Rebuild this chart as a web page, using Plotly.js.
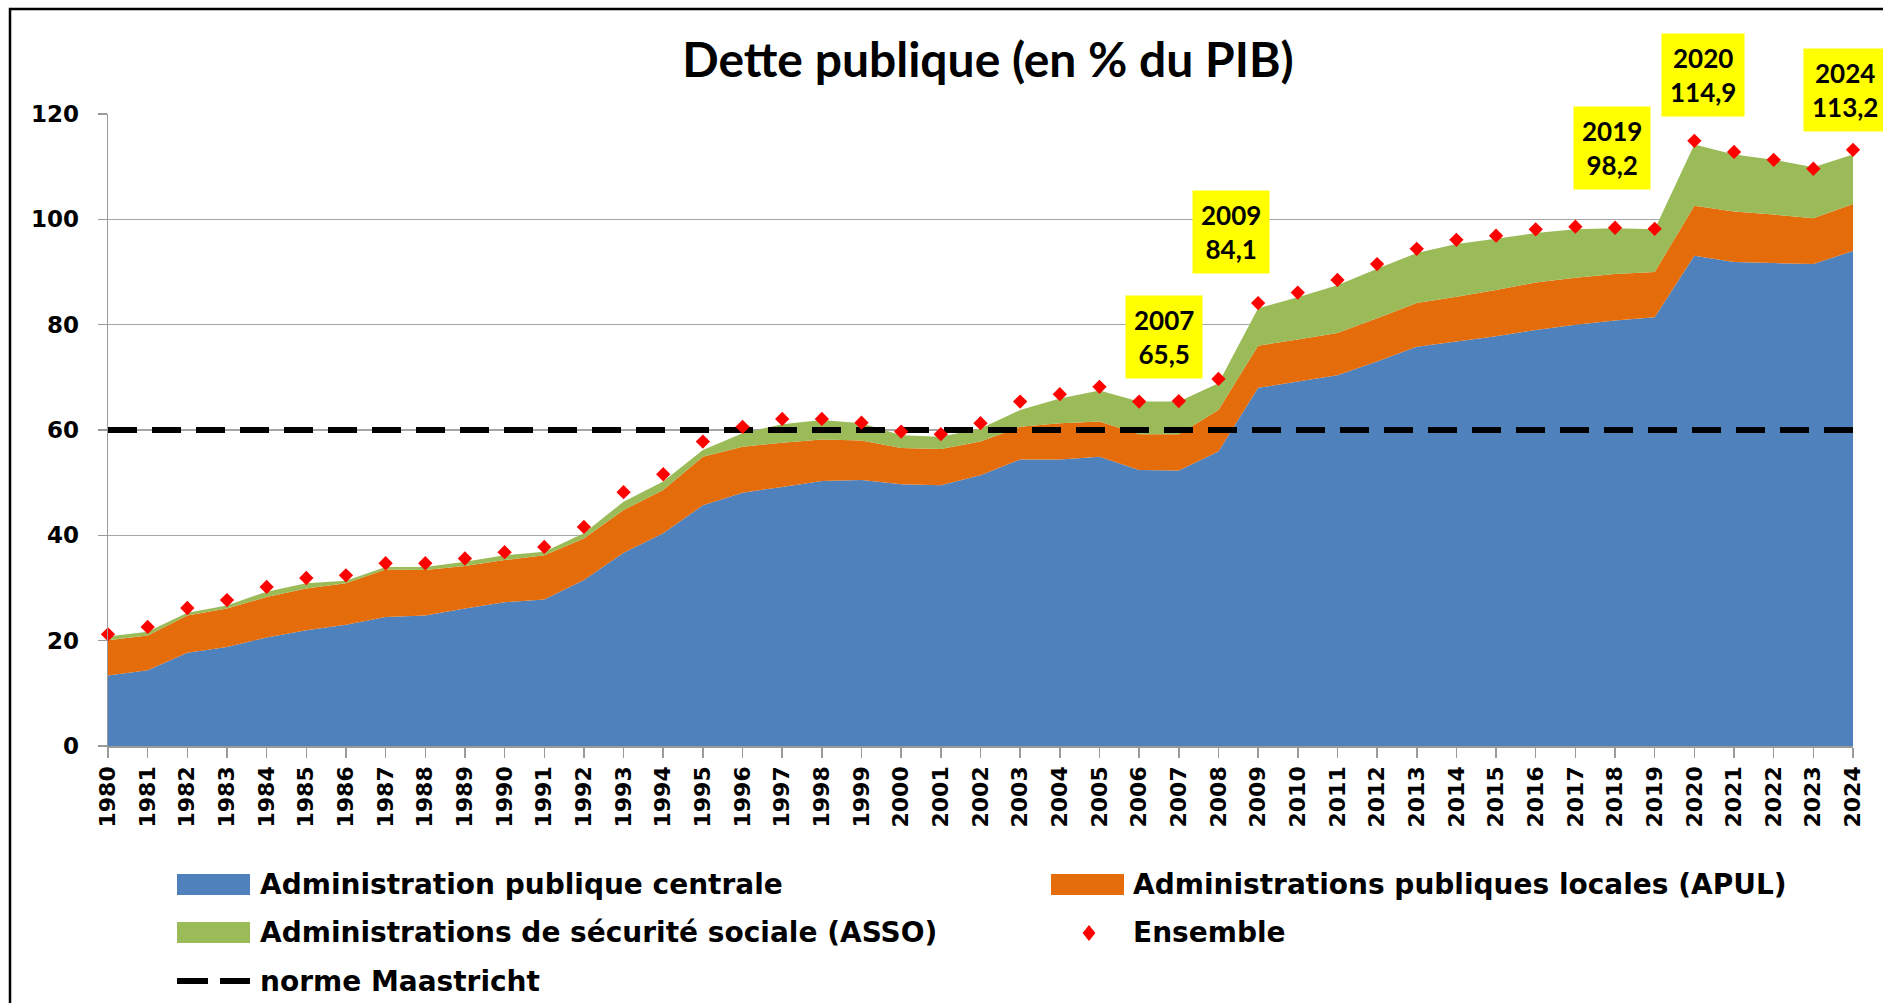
<!DOCTYPE html>
<html>
<head>
<meta charset="utf-8">
<script src="https://cdn.plot.ly/plotly-3.0.1.min.js"></script>
<style>
  html, body { margin: 0; padding: 0; background: #ffffff; }
  #chart { width: 1883px; height: 1003px; }
</style>
</head>
<body>
<div id="chart"></div>
<script>
// ---------- Data ----------
const years = [1980,1981,1982,1983,1984,1985,1986,1987,1988,1989,
               1990,1991,1992,1993,1994,1995,1996,1997,1998,1999,
               2000,2001,2002,2003,2004,2005,2006,2007,2008,2009,
               2010,2011,2012,2013,2014,2015,2016,2017,2018,2019,
               2020,2021,2022,2023,2024];

// Administration publique centrale
const apc = [13.4,14.4,17.7,18.8,20.6,22.0,23.0,24.5,24.8,26.1,
             27.3,27.8,31.5,36.7,40.4,45.7,48.1,49.2,50.3,50.5,
             49.7,49.5,51.4,54.4,54.4,54.9,52.4,52.3,55.9,68.0,
             69.2,70.4,73.0,75.8,76.8,77.8,79.0,80.0,80.8,81.4,
             93.1,91.9,91.7,91.5,94.0];

// Administrations publiques locales (APUL)
const apul = [6.7,6.6,7.1,7.3,7.7,7.9,7.9,9.0,8.6,8.1,
              8.0,8.4,7.9,8.1,8.2,9.2,8.7,8.4,7.9,7.5,
              6.9,6.9,6.4,6.2,6.9,6.7,6.8,6.9,7.9,8.0,
              8.0,8.0,8.2,8.3,8.5,8.8,9.0,8.9,8.8,8.6,
              9.5,9.6,9.2,8.7,8.9];

// Administrations de sécurité sociale (ASSO)
const asso = [0.7,0.7,0.5,0.6,1.0,1.0,0.5,0.5,0.6,0.8,
              0.9,0.7,1.0,1.6,1.6,1.3,2.6,3.5,3.7,3.3,
              2.4,2.3,2.5,3.2,4.7,5.9,6.2,6.2,5.1,7.1,
              8.0,9.1,9.4,9.5,10.0,9.7,9.4,9.2,8.7,8.1,
              11.6,10.8,10.4,9.7,9.4];

// Ensemble
const ensemble = [21.2,22.6,26.2,27.7,30.2,31.9,32.4,34.7,34.7,35.6,
                  36.8,37.8,41.6,48.2,51.6,57.8,60.6,62.1,62.1,61.4,
                  59.7,59.2,61.3,65.4,66.8,68.2,65.4,65.5,69.7,84.1,
                  86.1,88.5,91.5,94.4,96.1,96.9,98.1,98.6,98.4,98.2,
                  114.9,112.8,111.3,109.6,113.2];

// norme Maastricht (60 % du PIB)
const maastrichtYears = [1980, 2024];
const maastrichtValues = [60, 60];

// Highlighted data labels
const highlightYears = [2007, 2009, 2019, 2020, 2024];

// Series names
const seriesNames = [
  "Administration publique centrale",
  "Administrations publiques locales (APUL)",
  "Administrations de sécurité sociale (ASSO)",
  "Ensemble",
  "norme Maastricht"
];
const yTickVals = [0, 20, 40, 60, 80, 100, 120];

// ---------- Styles / positions ----------
const COLORS = { apc: "#4F81BD", apul: "#E46C0A", asso: "#9BBB59", ens: "#FF0000" };
const W = 1883, H = 1003;
const M = { l: 108, r: 30, t: 114, b: 257 };
const PL = M.l, PR = W - M.r, PT = M.t, PB = H - M.b;
const px = x => (x - PL) / (PR - PL);
const py = y => (PB - y) / (PB - PT);

// label box offsets (pixels, relative to the data point) for highlighted years
const labelOffsets = {
  2007: [-15, 64], 2009: [-27, 71], 2019: [-43, 81], 2020: [9, 66], 2024: [-8, 60]
};

// ---------- Traces ----------
const traces = [
  { x: years, y: apc, name: seriesNames[0], type: "scatter", mode: "none",
    stackgroup: "dette", fillcolor: COLORS.apc, line: { width: 0 }, showlegend: false },
  { x: years, y: apul, name: seriesNames[1], type: "scatter", mode: "none",
    stackgroup: "dette", fillcolor: COLORS.apul, line: { width: 0 }, showlegend: false },
  { x: years, y: asso, name: seriesNames[2], type: "scatter", mode: "none",
    stackgroup: "dette", fillcolor: COLORS.asso, line: { width: 0 }, showlegend: false },
  { x: maastrichtYears, y: maastrichtValues, name: seriesNames[4], type: "scatter", mode: "lines",
    line: { color: "#000000", width: 6, dash: "29px,15px" }, showlegend: false },
  { x: years, y: ensemble, name: seriesNames[3], type: "scatter", mode: "markers",
    cliponaxis: false,
    marker: { symbol: "diamond", size: 11, color: COLORS.ens, line: { width: 0 } }, showlegend: false }
];

// ---------- Annotations ----------
const fmt = v => v.toFixed(1).replace(".", ",");
const annotations = highlightYears.map(yr => {
  const i = years.indexOf(yr);
  const off = labelOffsets[yr];
  return {
    x: yr, y: ensemble[i], xref: "x", yref: "y",
    text: yr + "<br>" + fmt(ensemble[i]),
    showarrow: false, xanchor: "center", yanchor: "middle",
    xshift: off[0], yshift: off[1],
    bgcolor: "#FFFF00", borderpad: 8,
    font: { family: "Lato, 'Open Sans', sans-serif", size: 26, weight: 700, color: "#000000" }
  };
});

// manual legend (swatches + labels)
const legendFont = { family: "'DejaVu Sans', sans-serif", size: 28, weight: 700, color: "#000000" };
const legendTexts = [
  { t: seriesNames[0], x: 258, y: 884 },
  { t: seriesNames[1], x: 1131, y: 884 },
  { t: seriesNames[2], x: 258, y: 932 },
  { t: seriesNames[3], x: 1131, y: 932 },
  { t: seriesNames[4], x: 258, y: 981 }
];
legendTexts.forEach(d => annotations.push({
  xref: "paper", yref: "paper", x: px(d.x), y: py(d.y), text: d.t,
  showarrow: false, xanchor: "left", yanchor: "middle", font: legendFont
}));

const shapes = [];
const swatches = [
  { x0: 177, x1: 250, y0: 874, y1: 895, c: COLORS.apc },
  { x0: 1051, x1: 1124, y0: 874, y1: 895, c: COLORS.apul },
  { x0: 177, x1: 250, y0: 922, y1: 943, c: COLORS.asso }
];
swatches.forEach(s => shapes.push({
  type: "rect", xref: "paper", yref: "paper",
  x0: px(s.x0), x1: px(s.x1), y0: py(s.y1), y1: py(s.y0),
  fillcolor: s.c, line: { width: 0 }
}));
// diamond for Ensemble
(function () {
  const cx = 1089, cy = 933, h = 8;
  shapes.push({
    type: "path", xref: "paper", yref: "paper",
    path: `M ${px(cx)},${py(cy - h)} L ${px(cx + h * 0.8)},${py(cy)} L ${px(cx)},${py(cy + h)} L ${px(cx - h * 0.8)},${py(cy)} Z`,
    fillcolor: COLORS.ens, line: { width: 0 }
  });
})();
// dashed line for norme Maastricht
shapes.push({
  type: "line", xref: "paper", yref: "paper",
  x0: px(177), x1: px(250), y0: py(981), y1: py(981),
  line: { color: "#000000", width: 6, dash: "31px,12px" }
});
// outer frame
shapes.push({
  type: "rect", xref: "paper", yref: "paper",
  x0: px(10), x1: px(1900), y0: py(1020), y1: py(9),
  line: { color: "#000000", width: 2.5 }, fillcolor: "rgba(0,0,0,0)"
});

// ---------- Layout ----------
const tickFont = { family: "'DejaVu Sans', sans-serif", size: 22, weight: 700, color: "#000000" };
const yTickFont = { family: "'DejaVu Sans', sans-serif", size: 23, weight: 700, color: "#000000" };
const layout = {
  width: W, height: H,
  margin: M,
  paper_bgcolor: "#ffffff", plot_bgcolor: "#ffffff",
  showlegend: false,
  title: {
    text: "Dette publique (en % du PIB)",
    font: { family: "Lato, 'Open Sans', sans-serif", size: 48, weight: 700, color: "#000000" },
    xref: "container", x: 988 / W, xanchor: "center",
    yref: "container", y: 1 - 60 / H, yanchor: "middle"
  },
  xaxis: {
    range: [years[0], years[years.length - 1]],
    tickmode: "array", tickvals: years, ticktext: years.map(String),
    tickangle: -90, tickfont: tickFont,
    ticks: "outside", ticklen: 10, tickwidth: 1.5, tickcolor: "#9a9a9a",
    showgrid: false, zeroline: false,
    showline: true, linecolor: "#9a9a9a", linewidth: 1.5,
    fixedrange: true
  },
  yaxis: {
    range: [0, 120],
    tickmode: "array", tickvals: yTickVals,
    tickfont: yTickFont,
    ticks: "outside", ticklen: 9, tickwidth: 1.5, tickcolor: "#9a9a9a",
    ticklabelstandoff: 14,
    showgrid: true, gridcolor: "#a6a6a6", gridwidth: 1.5,
    zeroline: false,
    showline: true, linecolor: "#9a9a9a", linewidth: 1.5,
    fixedrange: true
  },
  annotations: annotations,
  shapes: shapes
};

Plotly.newPlot("chart", traces, layout, { displayModeBar: false, staticPlot: true });
</script>
</body>
</html>
